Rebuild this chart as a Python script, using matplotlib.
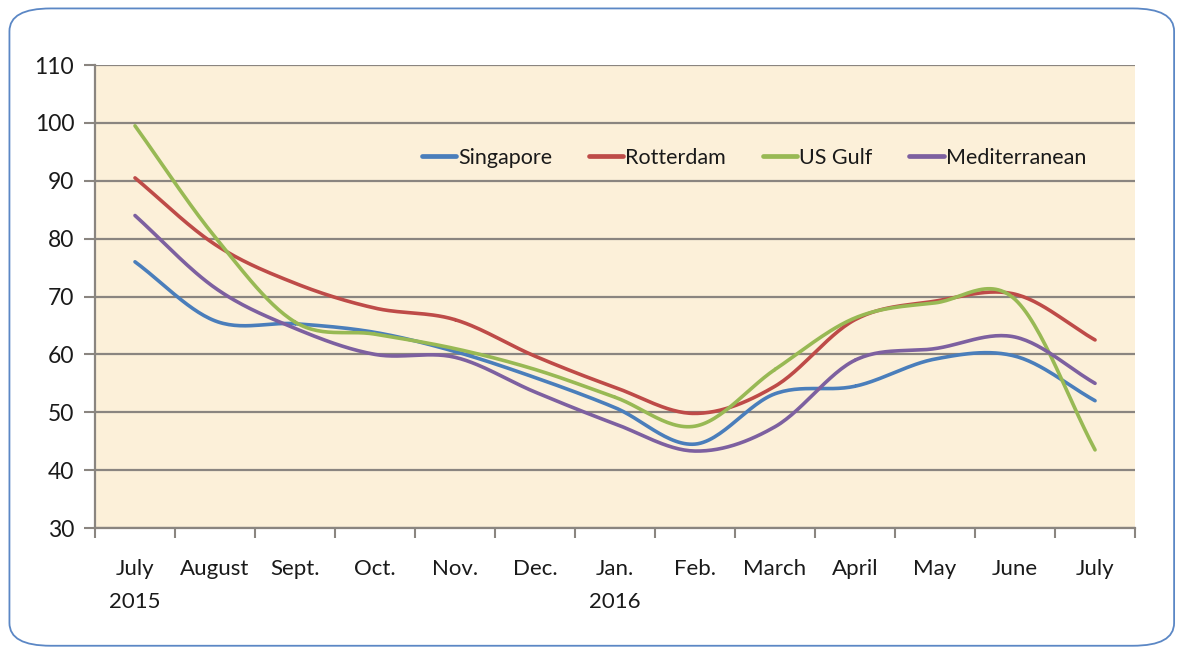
import numpy as np
import matplotlib
matplotlib.use("Agg")
import matplotlib.pyplot as plt
from matplotlib.patches import FancyBboxPatch

plt.rcParams['font.family'] = ['Lato', 'DejaVu Sans']

# data
months = ["July\n2015", "August", "Sept.", "Oct.", "Nov.", "Dec.", "Jan.\n2016",
          "Feb.", "March", "April", "May", "June", "July"]
singapore = [76, 65.8, 65.3, 63.8, 60.5, 56, 50.8, 44.5, 53.2, 54.5, 59.2, 59.7, 52]
rotterdam = [90.5, 79, 72.3, 68, 66, 59.7, 54.3, 49.8, 54.5, 66, 69.2, 70.4, 62.5]
us_gulf = [99.5, 80.3, 65.6, 63.5, 61, 57.4, 52.6, 47.6, 57.4, 66.3, 68.9, 69.5, 43.5]
mediterranean = [84, 71.5, 64.5, 60, 59.5, 53.5, 48, 43.3, 47.5, 59, 61, 63, 55]

series = [("Singapore", singapore, "#4a7ebb"),
          ("Rotterdam", rotterdam, "#be4b48"),
          ("US Gulf", us_gulf, "#98b954"),
          ("Mediterranean", mediterranean, "#7d60a0")]


def smooth(y, n=30):
    # catmull-rom curve through the points, like a spreadsheet "smoothed line"
    y = np.asarray(y, float)
    x = np.arange(len(y), dtype=float)
    px = np.concatenate([[2 * x[0] - x[1]], x, [2 * x[-1] - x[-2]]])
    py = np.concatenate([[2 * y[0] - y[1]], y, [2 * y[-1] - y[-2]]])
    xs, ys = [], []
    t = np.linspace(0, 1, n)
    for i in range(1, len(px) - 2):
        for p, out in ((px, xs), (py, ys)):
            p0, p1, p2, p3 = p[i - 1], p[i], p[i + 1], p[i + 2]
            out.append(0.5 * ((2 * p1) + (-p0 + p2) * t
                              + (2 * p0 - 5 * p1 + 4 * p2 - p3) * t ** 2
                              + (-p0 + 3 * p1 - 3 * p2 + p3) * t ** 3))
    return np.concatenate(xs), np.concatenate(ys)


fig = plt.figure(figsize=(11.8, 6.49), dpi=100)
fig.patches.append(FancyBboxPatch((0.008, 0.005), 0.987, 0.982,
                                  boxstyle="round,pad=0,rounding_size=0.035",
                                  transform=fig.transFigure, facecolor="white",
                                  edgecolor="#5b87c5", lw=1.3, zorder=-1))

ax = fig.add_axes([0.0805, 0.1864, 0.8814, 0.7134])
ax.set_facecolor("#fcf0d9")

for name, vals, col in series:
    sx, sy = smooth(vals)
    ax.plot(sx, sy, color=col, lw=2.6, label=name, solid_capstyle="round", zorder=3)

ax.set_xlim(-0.5, len(months) - 0.5)
ax.set_ylim(30, 110)
ax.set_yticks(np.arange(30, 111, 10))
ax.yaxis.grid(True, color="#8a8580", lw=1.6)
ax.set_axisbelow(True)

ax.set_xticks(np.arange(len(months)))
ax.set_xticklabels(months, fontsize=16, color="#1a1a1a", linespacing=1.85)
ax.set_xticks(np.arange(len(months) + 1) - 0.5, minor=True)
ax.tick_params(axis="x", which="major", length=0, pad=22)
ax.tick_params(axis="x", which="minor", length=7, color="#8a8580", width=1.5)
ax.tick_params(axis="y", length=8, color="#8a8580", width=1.5, pad=7,
               labelsize=16.5, labelcolor="#1a1a1a")

for s in ["top", "right"]:
    ax.spines[s].set_visible(False)
for s in ["left", "bottom"]:
    ax.spines[s].set_color("#8a8580")
    ax.spines[s].set_linewidth(1.6)

leg = ax.legend(loc="center", bbox_to_anchor=(0.6335, 0.8), ncol=4, frameon=False,
                fontsize=15.5, handlelength=1.6, handletextpad=0.1, columnspacing=1.7)
for h in leg.legend_handles:
    h.set_linewidth(3.4)
for t in leg.get_texts():
    t.set_color("#1a1a1a")

fig.savefig("out.png", dpi=100)
